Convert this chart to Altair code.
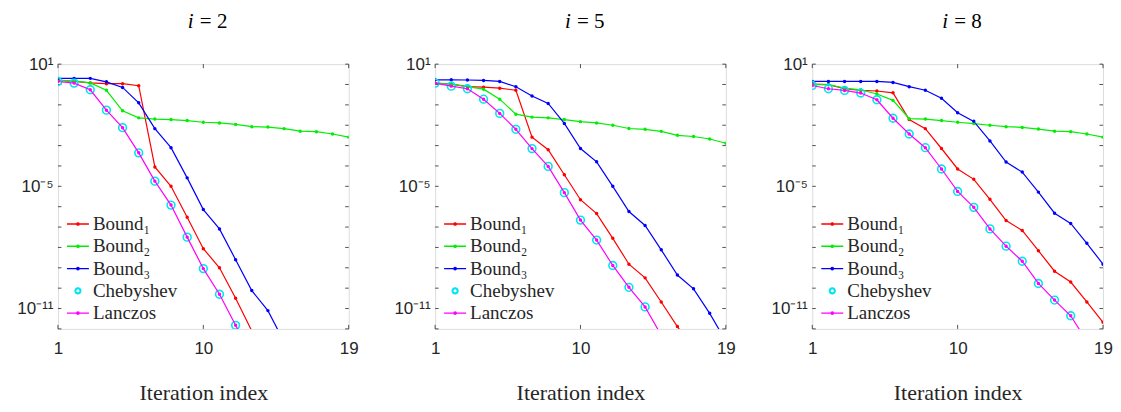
import altair as alt
import pandas as pd

# ---------------- data ----------------
series_names = ["Bound₁", "Bound₂", "Bound₃", "Chebyshev", "Lanczos"]
series_colors = ["#ff0000", "#00ee00", "#0000ff", "#00e5ee", "#ff00ff"]
panel_var = ["i", "i", "i"]
panel_val = ["= 2", "= 5", "= 8"]

# panel i = 2
p1_bound1 = [1.6, 1.4, 1.2, 1.1, 1.1, 0.87, 8.9e-5, 1.0e-5, 3.0e-7, 8.7e-9, 1.0e-9, 3.2e-11, 7.9e-13]
p1_bound2 = [1.6, 1.5, 1.2, 0.52, 0.051, 0.023, 0.020, 0.019, 0.017, 0.014, 0.013, 0.011,
             8.5e-3, 8.1e-3, 6.8e-3, 5.1e-3, 4.8e-3, 3.7e-3, 2.6e-3]
p1_bound3 = [2.0, 2.0, 2.0, 1.35, 0.72, 0.126, 6.8e-3, 7.9e-4, 2.6e-5, 7.2e-7, 8.1e-8, 2.5e-9,
             7.6e-11, 7.9e-12, 2.3e-13]
p1_cheb = [1.4, 1.17, 0.55, 0.055, 7.6e-3, 4.4e-4, 1.8e-5, 1.2e-6, 3.2e-8, 9.1e-10, 5.0e-11, 1.5e-12, 5.0e-14]
p1_lanczos = [1.4, 1.17, 0.55, 0.055, 7.6e-3, 4.4e-4, 1.8e-5, 1.2e-6, 3.2e-8, 9.1e-10, 5.0e-11, 1.5e-12, 5.0e-14]

# panel i = 5
p2_bound1 = [1.17, 1.05, 0.79, 0.74, 0.66, 0.52, 2.6e-3, 6.3e-4, 3.7e-5, 2.2e-6, 4.6e-7, 2.8e-8,
             1.5e-9, 3.2e-10, 2.1e-11, 1.3e-12, 1.0e-13]
p2_bound2 = [1.17, 1.05, 0.79, 0.59, 0.19, 0.035, 0.025, 0.023, 0.019, 0.015, 0.013, 0.010,
             6.9e-3, 6.3e-3, 5.0e-3, 3.2e-3, 2.8e-3, 2.1e-3, 1.3e-3]
p2_bound3 = [1.7, 1.7, 1.66, 1.58, 1.41, 0.78, 0.27, 0.117, 0.0123, 7.2e-4, 1.6e-4, 1.0e-5,
             5.8e-7, 1.2e-7, 7.6e-9, 4.4e-10, 9.3e-11, 5.8e-12, 2.5e-13]
p2_cheb = [1.17, 0.83, 0.62, 0.19, 0.038, 6.3e-3, 7.1e-4, 9.5e-5, 4.9e-6, 2.2e-7, 2.3e-8, 1.3e-9,
           1.1e-10, 1.2e-11, 4.9e-13]
p2_lanczos = [1.17, 0.83, 0.62, 0.19, 0.038, 6.3e-3, 7.1e-4, 9.5e-5, 4.9e-6, 2.2e-7, 2.3e-8, 1.3e-9,
              1.1e-10, 1.2e-11, 4.9e-13]

# panel i = 8
p3_bound1 = [1.05, 0.98, 0.62, 0.52, 0.48, 0.39, 0.019, 6.8e-3, 7.2e-4, 7.1e-5, 2.2e-5, 2.3e-6,
             2.1e-7, 6.8e-8, 6.9e-9, 6.8e-10, 2.0e-10, 2.1e-11, 2.1e-12]
p3_bound2 = [0.98, 1.0, 0.66, 0.55, 0.34, 0.166, 0.021, 0.020, 0.017, 0.014, 0.012, 0.010,
             8.5e-3, 7.8e-3, 6.5e-3, 5.1e-3, 4.8e-3, 3.7e-3, 2.6e-3]
p3_bound3 = [1.41, 1.41, 1.41, 1.41, 1.41, 1.26, 0.78, 0.52, 0.21, 0.041, 0.0155, 1.7e-3,
             1.55e-4, 5.0e-5, 5.2e-6, 4.8e-7, 1.5e-7, 1.6e-8, 1.5e-9]
p3_cheb = [0.89, 0.62, 0.51, 0.38, 0.178, 0.022, 3.7e-3, 7.9e-4, 7.1e-5, 5.6e-6, 9.3e-7, 8.1e-8,
           1.15e-8, 2.1e-9, 1.7e-10, 2.6e-11, 4.4e-12, 2.5e-13]
p3_lanczos = [0.89, 0.62, 0.51, 0.38, 0.178, 0.022, 3.7e-3, 7.9e-4, 7.1e-5, 5.6e-6, 9.3e-7, 8.1e-8,
              1.15e-8, 2.1e-9, 1.7e-10, 2.6e-11, 4.4e-12, 2.5e-13]

panels_data = [
    [p1_bound1, p1_bound2, p1_bound3, p1_cheb, p1_lanczos],
    [p2_bound1, p2_bound2, p2_bound3, p2_cheb, p2_lanczos],
    [p3_bound1, p3_bound2, p3_bound3, p3_cheb, p3_lanczos],
]

x_domain = [1, 19]
x_ticks = [1, 10, 19]
y_domain = [1e-12, 1e1]
y_tick_vals = [1e1, 1e-5, 1e-11]
y_tick_labels = ["10¹", "10⁻⁵", "10⁻¹¹"]
y_decades = [1e1, 1e0, 1e-1, 1e-2, 1e-3, 1e-4, 1e-5, 1e-6, 1e-7, 1e-8, 1e-9, 1e-10, 1e-11, 1e-12]

# ---------------- styling ----------------
W, H = 291, 265
AX = "#262626"
SANS = "Liberation Sans"
SERIF = "Liberation Serif"

line_dot = "M-1,0L1,0M-0.11,0A0.11,0.11,0,1,1,0.11,0A0.11,0.11,0,1,1,-0.11,0Z"
# ring (outer clockwise, inner counter-clockwise) so it stays open even if filled
open_circ = ("M-0.27,0A0.27,0.27,0,1,1,0.27,0A0.27,0.27,0,1,1,-0.27,0Z"
             "M-0.2,0A0.2,0.2,0,1,0,0.2,0A0.2,0.2,0,1,0,-0.2,0Z")
legend_shapes = [line_dot, line_dot, line_dot, open_circ, line_dot]

label_expr = "'" + y_tick_labels[-1] + "'"
for v, l in reversed(list(zip(y_tick_vals[:-1], y_tick_labels[:-1]))):
    label_expr = f"datum.value > {v * 0.5} ? '{l}' : " + label_expr

x_scale = alt.Scale(domain=x_domain, nice=False, zero=False)
y_scale = alt.Scale(type="log", domain=y_domain, nice=False)
color_scale = alt.Scale(domain=series_names, range=series_colors)
shape_scale = alt.Scale(domain=series_names, range=legend_shapes)

x_axis = alt.Axis(values=x_ticks, format="d", ticks=False, domain=False, grid=False,
                  labelFont=SANS, labelFontSize=17, labelColor=AX, labelPadding=12,
                  labelFlush=False, labelOverlap=False,
                  title="Iteration index", titleFont=SERIF, titleFontSize=22,
                  titleFontWeight="normal", titleColor=AX, titlePadding=26)
y_axis = alt.Axis(values=y_tick_vals, labelExpr=label_expr, ticks=False, domain=False,
                  grid=False, labelFont=SANS, labelFontSize=17, labelColor=AX,
                  labelPadding=5, title=None, minExtent=52, maxExtent=52)

legend_def = alt.Legend(orient="none", legendX=8, legendY=148, padding=0, title=None,
                        symbolSize=484, symbolStrokeWidth=1.3, symbolOpacity=1,
                        symbolFillColor="transparent",
                        labelFont=SERIF, labelFontSize=19, labelColor=AX,
                        labelOffset=3, rowPadding=0.3, labelLimit=300)

X = alt.X("x:Q", scale=x_scale, axis=x_axis)
Y = alt.Y("value:Q", scale=y_scale, axis=y_axis)

rows_ydec = pd.DataFrame({"value": y_decades})
rows_xt = pd.DataFrame({"x": x_ticks})


def panel(k):
    rows = []
    for s, vals in zip(series_names, panels_data[k]):
        for j, v in enumerate(vals):
            rows.append({"series": s, "x": j + 1, "value": v})
    df = pd.DataFrame(rows)
    df_b = df[df.series.isin(series_names[:3])]
    df_c = df[df.series == "Chebyshev"]
    df_l = df[df.series == "Lanczos"]

    col = alt.Color("series:N", scale=color_scale, legend=None)

    bounds = alt.Chart(df_b).mark_line(
        strokeWidth=1.2, clip=True,
        point=alt.OverlayMarkDef(filled=True, size=12, clip=True)
    ).encode(x=X, y=Y, color=col)

    cheb = alt.Chart(df_c).mark_point(
        shape="circle", filled=False, size=60, strokeWidth=1.6, clip=True, opacity=1
    ).encode(x=X, y=Y, color=col)

    lanc = alt.Chart(df_l).mark_line(
        strokeWidth=1.2, clip=True,
        point=alt.OverlayMarkDef(filled=True, size=12, clip=True)
    ).encode(x=X, y=Y, color=col)

    carrier = alt.Chart(df).mark_point(filled=False, opacity=0, clip=True).encode(
        x=X, y=Y,
        color=alt.Color("series:N", scale=color_scale, legend=legend_def),
        shape=alt.Shape("series:N", scale=shape_scale, legend=legend_def),
    )

    ytl = alt.Chart(rows_ydec).mark_rule(color=AX, strokeWidth=0.8).encode(
        y=Y, x=alt.value(0), x2=alt.value(3.5))
    ytr = alt.Chart(rows_ydec).mark_rule(color=AX, strokeWidth=0.8).encode(
        y=Y, x=alt.value(W - 3.5), x2=alt.value(W))
    xtb = alt.Chart(rows_xt).mark_rule(color=AX, strokeWidth=0.8).encode(
        x=X, y=alt.value(H), y2=alt.value(H - 4))
    xtt = alt.Chart(rows_xt).mark_rule(color=AX, strokeWidth=0.8).encode(
        x=X, y=alt.value(0), y2=alt.value(4))

    t_var = alt.Chart(pd.DataFrame({"t": [panel_var[k]]})).mark_text(
        font=SERIF, fontSize=21, fontStyle="italic", color="black",
        align="left", baseline="alphabetic"
    ).encode(text="t:N", x=alt.value(130), y=alt.value(-36))
    t_val = alt.Chart(pd.DataFrame({"t": [panel_val[k]]})).mark_text(
        font=SERIF, fontSize=21, color="black", align="left", baseline="alphabetic"
    ).encode(text="t:N", x=alt.value(142), y=alt.value(-36))

    return alt.layer(carrier, ytl, ytr, xtb, xtt, bounds, cheb, lanc, t_var, t_val).properties(
        width=W, height=H)


chart = alt.hconcat(panel(0), panel(1), panel(2), spacing=86.5, bounds="flush").resolve_legend(
    color="independent", shape="independent"
).properties(
    padding={"left": -3, "top": 2, "right": 0, "bottom": 0}
).configure_view(stroke=AX, strokeWidth=1).configure(background="white")

chart.save("out.html", embed_options={"renderer": "svg", "actions": False})
